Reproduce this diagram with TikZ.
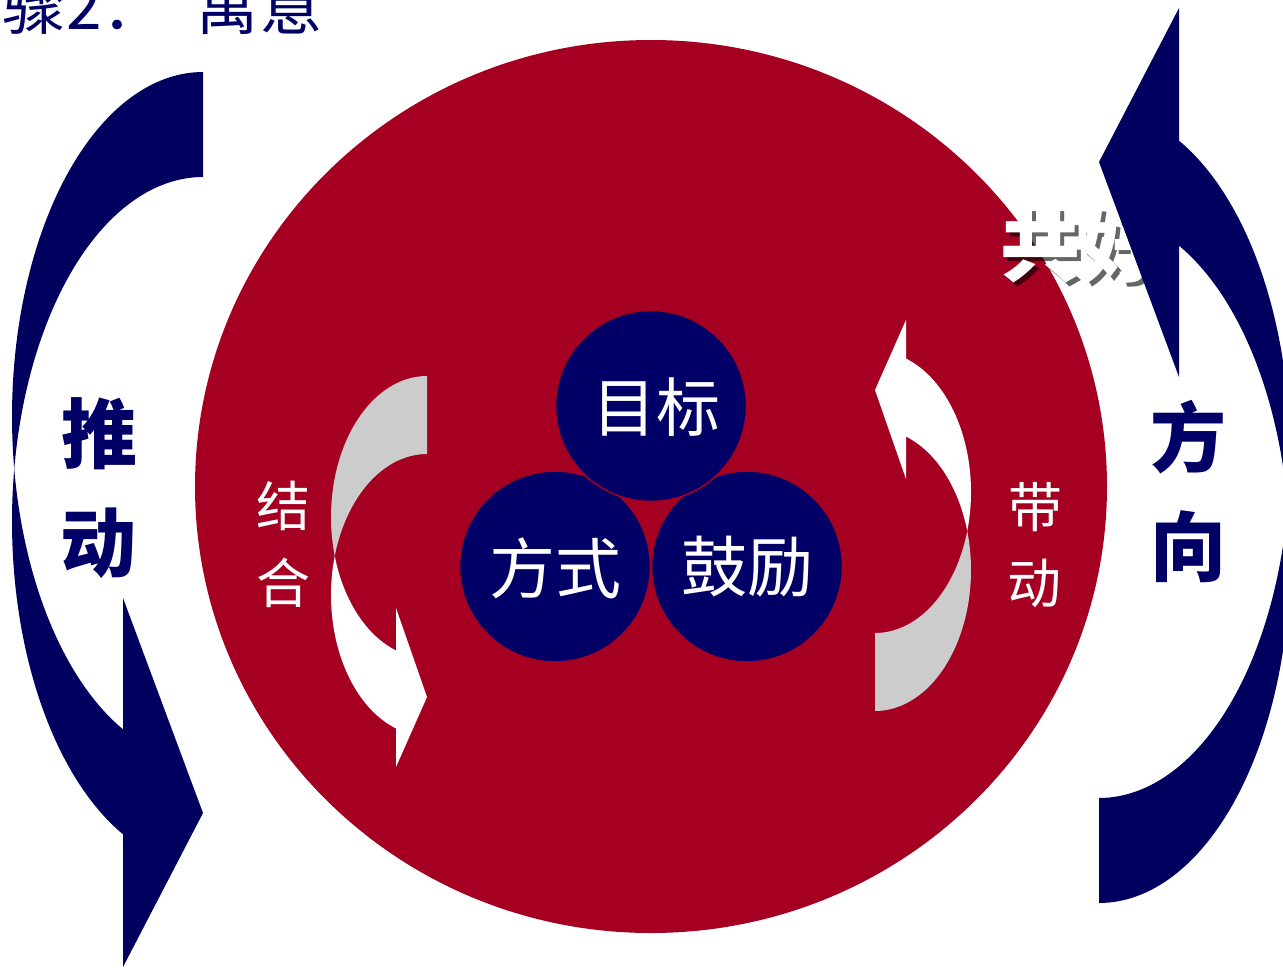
\documentclass[tikz,border=0pt]{standalone}
\usepackage{fontspec}
\newfontfamily\cjk{Noto Sans CJK SC}
\definecolor{bigred}{RGB}{165,0,33}
\definecolor{navyc}{RGB}{0,0,102}
\definecolor{navya}{RGB}{0,0,94}
\definecolor{lgray}{RGB}{204,204,204}
\tikzset{
  lbl/.style={inner sep=0pt, outer sep=0pt, font=\cjk},
  navytxt/.style={lbl, text=navyc, font=\cjk\bfseries\fontsize{76}{76}\selectfont},
  sidetxt/.style={lbl, text=white, font=\cjk\fontsize{54}{54}\selectfont},
  balltxt/.style={lbl, text=white, font=\cjk\fontsize{64}{64}\selectfont},
  ball/.style={fill=navyc, draw=bigred, line width=1.5pt},
}
\begin{document}
\begin{tikzpicture}[x=1pt, y=-1pt]
\useasboundingbox (0,0) rectangle (1283,967);
\clip (0,0) rectangle (1283,967);
\fill[white] (0,0) rectangle (1283,967);

% title (clipped)
\node[lbl, anchor=base west, text=navyc, font=\cjk\fontsize{64}{64}\selectfont] (title) at (2,29) {骤2：\hspace{30pt}寓意};

% big red circle
\fill[bigred] (651,486.5) ellipse[x radius=456, y radius=446.5];
\coordinate (center) at (651,486.5);

% inner left arrow (gray + white)
\begin{scope}
\fill[lgray] (427,376) -- plot[domain=270:163.94, samples=60] ({427+96*cos(\x)},{517+141*sin(\x)})
  -- plot[domain=196.06:270, samples=60] ({427+96*cos(\x)},{595+141*sin(\x)}) -- cycle;
\fill[white] plot[domain=196.06:108.84, samples=60] ({427+96*cos(\x)},{595+141*sin(\x)})
  -- (396,767) -- (427,697) -- (396,608)
  -- plot[domain=108.84:163.94, samples=60] ({427+96*cos(\x)},{517+141*sin(\x)}) -- cycle;
\end{scope}
% inner right arrow (rotated copy)
\begin{scope}[rotate around={180:(651,543.5)}]
\fill[lgray] (427,376) -- plot[domain=270:163.94, samples=60] ({427+96*cos(\x)},{517+141*sin(\x)})
  -- plot[domain=196.06:270, samples=60] ({427+96*cos(\x)},{595+141*sin(\x)}) -- cycle;
\fill[white] plot[domain=196.06:108.84, samples=60] ({427+96*cos(\x)},{595+141*sin(\x)})
  -- (396,767) -- (427,697) -- (396,608)
  -- plot[domain=108.84:163.94, samples=60] ({427+96*cos(\x)},{517+141*sin(\x)}) -- cycle;
\end{scope}

% three small circles
\draw[ball] (555,566.5) circle[radius=95.5];
\draw[ball] (747,566.5) circle[radius=95.5];
\draw[ball] (651,406) circle[radius=95.5];
\node[balltxt] (mubiao) at (656,407) {目标};
\node[balltxt, font=\cjk\fontsize{66}{66}\selectfont] (fangshi) at (555,568) {方式};
\node[balltxt, font=\cjk\fontsize{66}{66}\selectfont] (guli) at (747,567) {鼓励};

% side labels inside red circle
\node[sidetxt] (jie) at (283,506) {结};
\node[sidetxt] (he) at (283,583) {合};
\node[sidetxt] (dai) at (1035,507) {带};
\node[sidetxt] (dong2) at (1034,583) {动};

% 共好 with shadow
\node[lbl, anchor=west, text=black, opacity=0.6, font=\cjk\bfseries\fontsize{80}{80}\selectfont] (gonghaoS) at (1004,249) {共好};
\node[lbl, anchor=west, text=white, font=\cjk\bfseries\fontsize{80}{80}\selectfont] (gonghao) at (1000,245) {共好};

% big left arrow
\fill[navya] (203,72) -- plot[domain=270:171.234, samples=80] ({203+191*cos(\x)},{416.5+344.5*sin(\x)})
  -- plot[domain=188.766:114.76, samples=80] ({203+191*cos(\x)},{521.5+344.5*sin(\x)})
  -- (123,967) -- (203,813) -- (123,598)
  -- plot[domain=114.76:171.234, samples=80] ({203+191*cos(\x)},{416.5+344.5*sin(\x)})
  -- plot[domain=188.766:270, samples=80] ({203+191*cos(\x)},{521.5+344.5*sin(\x)}) -- cycle;
% big right arrow (rotated copy)
\begin{scope}[rotate around={180:(651,487.5)}]
\fill[navya] (203,72) -- plot[domain=270:171.234, samples=80] ({203+191*cos(\x)},{416.5+344.5*sin(\x)})
  -- plot[domain=188.766:114.76, samples=80] ({203+191*cos(\x)},{521.5+344.5*sin(\x)})
  -- (123,967) -- (203,813) -- (123,598)
  -- plot[domain=114.76:171.234, samples=80] ({203+191*cos(\x)},{416.5+344.5*sin(\x)})
  -- plot[domain=188.766:270, samples=80] ({203+191*cos(\x)},{521.5+344.5*sin(\x)}) -- cycle;
\end{scope}

% outer labels
\node[navytxt] (tui) at (99,434) {推};
\node[navytxt] (dong) at (98,543) {动};
\node[navytxt] (fang) at (1188,437) {方};
\node[navytxt] (xiang) at (1188,547) {向};
\end{tikzpicture}
\end{document}
